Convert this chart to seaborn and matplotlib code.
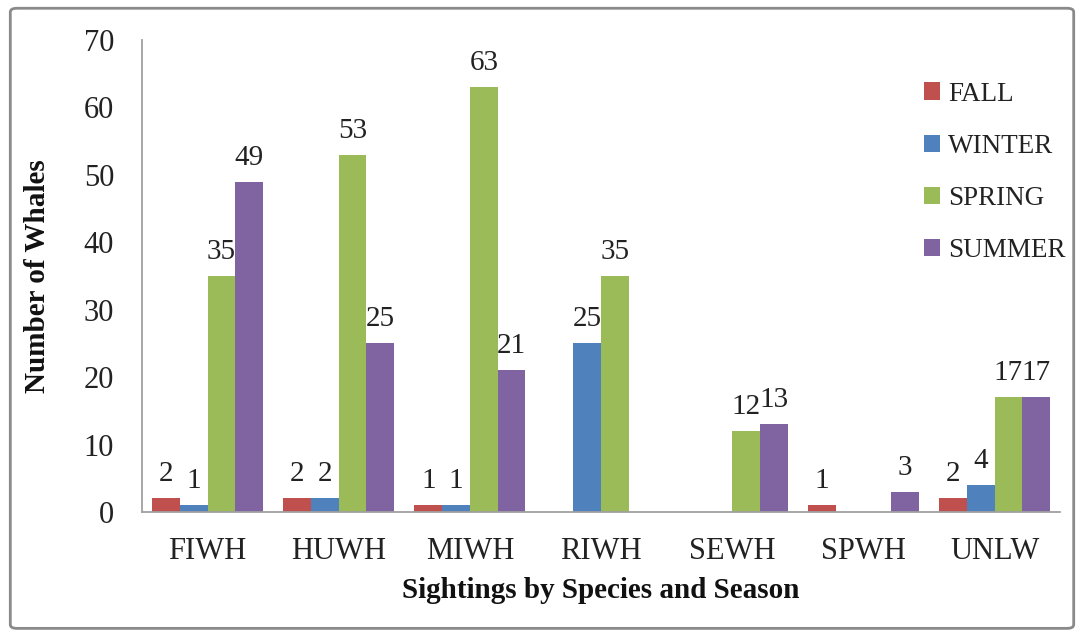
import matplotlib
matplotlib.use("Agg")
import matplotlib.pyplot as plt
import seaborn as sns
import pandas as pd
from matplotlib.patches import FancyBboxPatch

species = ["FIWH", "HUWH", "MIWH", "RIWH", "SEWH", "SPWH", "UNLW"]
seasons = ["FALL", "WINTER", "SPRING", "SUMMER"]
fall = [2, 2, 1, 0, 0, 1, 2]
winter = [1, 2, 1, 25, 0, 0, 4]
spring = [35, 53, 63, 35, 12, 0, 17]
summer = [49, 25, 21, 0, 13, 3, 17]
colors = ["#C0504D", "#4F81BD", "#9BBB59", "#8064A2"]

values = {"FALL": fall, "WINTER": winter, "SPRING": spring, "SUMMER": summer}
rows = []
for s in seasons:
    for sp, v in zip(species, values[s]):
        rows.append({"Species": sp, "Season": s, "Count": v})
df = pd.DataFrame(rows)

sns.set_theme(style="white")
plt.rcParams["font.family"] = ["Liberation Serif", "DejaVu Serif"]

fig = plt.figure(figsize=(10.84, 6.36), dpi=100)
ax = fig.add_axes([0.131, 0.195, 0.847, 0.742])

sns.barplot(data=df, x="Species", y="Count", hue="Season", order=species,
            hue_order=seasons, palette=colors, width=0.845, linewidth=0,
            saturation=1, ax=ax, legend=True)

for cont, s in zip(ax.containers, seasons):
    labels = [str(v) if v != 0 else "" for v in values[s]]
    ax.bar_label(cont, labels=labels, padding=8, fontsize=21, color="#222222")

ax.set_xlim(-0.5, 6.5)
ax.set_ylim(0, 70)
ax.set_yticks(range(0, 71, 10))
ax.tick_params(axis="both", labelsize=22, colors="#222222", length=0)
ax.tick_params(axis="y", pad=20)
ax.tick_params(axis="x", pad=18)
for side in ["top", "right"]:
    ax.spines[side].set_visible(False)
for side in ["left", "bottom"]:
    ax.spines[side].set_color("#A0A0A0")
    ax.spines[side].set_linewidth(1.3)

ax.set_xlabel("Sightings by Species and Season", fontsize=21, fontweight="bold",
              color="#111111", labelpad=8)
ax.set_ylabel("Number of Whales", fontsize=21, fontweight="bold",
              color="#111111", labelpad=24)

leg = ax.legend(loc="upper left", bbox_to_anchor=(0.84, 0.935), frameon=False,
                fontsize=19.5, handlelength=0.6, handleheight=0.6,
                handletextpad=0.3, labelspacing=1.0, borderaxespad=0)
for t in leg.get_texts():
    t.set_color("#222222")

border = FancyBboxPatch((0.0095, 0.012), 0.981, 0.975,
                        boxstyle="round,pad=0,rounding_size=0.006",
                        transform=fig.transFigure, fill=False,
                        edgecolor="#8A8A8A", linewidth=2)
fig.patches.append(border)

fig.savefig("out.png", dpi=100)
